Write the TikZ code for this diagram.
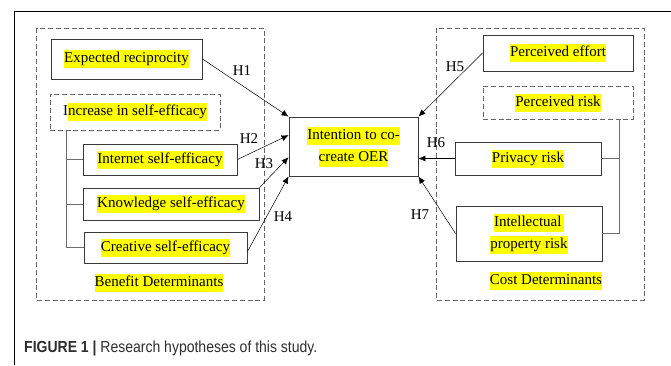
\documentclass[tikz,border=0pt]{standalone}
\usepackage{fontspec}
\setmainfont{Liberation Serif}
\newfontfamily\capfont{Liberation Sans}
\usetikzlibrary{arrows.meta,calc}
\definecolor{boxline}{HTML}{3A3A3A}
\definecolor{dashline}{HTML}{666666}
\definecolor{hlyellow}{HTML}{FFFF00}
\definecolor{capgray}{HTML}{2E2E2E}
\newcommand\hlt[1]{{\setlength{\fboxsep}{0pt}\colorbox{hlyellow}{\strut #1}}}
\tikzset{
  txt/.style={font=\fontsize{15}{18}\selectfont, inner sep=0pt, align=center},
  solidbox/.style={draw=boxline, line width=0.9pt, inner sep=0pt, font=\fontsize{15}{18}\selectfont, align=center},
  dashbox/.style={draw=dashline, line width=0.9pt, dash pattern=on 5pt off 2.8pt, inner sep=0pt, font=\fontsize{15}{18}\selectfont, align=center},
  group/.style={draw=dashline, line width=0.9pt, dash pattern=on 5pt off 2.8pt},
  hyp/.style={draw=black, line width=0.5pt, -{Latex[length=7pt,width=6pt]}},
  brk/.style={draw=gray!85!black, line width=0.9pt},
  hlab/.style={font=\fontsize{15}{18}\selectfont, inner sep=0pt},
}
\begin{document}
\begin{tikzpicture}[x=1pt,y=-1pt]
\useasboundingbox (0,0) rectangle (671,365);
\fill[white] (0,0) rectangle (671,365);
% outer frame (top and left only)
\coordinate (fa) at (14,365);
\coordinate (fb) at (14,11);
\coordinate (fc) at (671,11);
\draw[line width=1pt] (fa) -- (fb) -- (fc);
% group boxes
\draw[group] (36,28) rectangle (264,300);
\draw[group] (436,28) rectangle (644,300);
% left nodes
\node[solidbox, minimum width=151pt, minimum height=40pt] (er) at (126.5,59) {\hlt{Expected reciprocity}};
\node[dashbox, minimum width=170pt, minimum height=36pt] (inc) at (135,112) {I\hlt{ncrease in self-efficacy}};
\node[solidbox, minimum width=154pt, minimum height=31pt] (ise) at (160,159.5) {\hlt{Internet self-efficacy}};
\node[solidbox, minimum width=176pt, minimum height=32pt] (kse) at (171,204) {\hlt{Knowledge self-efficacy}};
\node[solidbox, minimum width=163pt, minimum height=31pt] (cse) at (165.5,247.5) {\hlt{Creative self-efficacy}};
\node[txt] (ben) at (159,283) {\hlt{Benefit Determinants}};
% centre
\node[solidbox, minimum width=129pt, minimum height=59pt] (ic) at (353.5,146.5) {\hlt{Intention to co-}\\[4pt]\hlt{create OER}};
% right nodes
\node[solidbox, minimum width=150pt, minimum height=36pt] (pe) at (558,53) {\hlt{Perceived effort}};
\node[dashbox, minimum width=150pt, minimum height=33pt] (pr) at (558,102.5) {\hlt{Perceived risk}};
\node[solidbox, minimum width=146pt, minimum height=33pt] (priv) at (528,158.5) {\hlt{Privacy risk}};
\node[solidbox, minimum width=146pt, minimum height=55pt] (ipr) at (529,233.5) {\hlt{Intellectual\,}\\[4pt]\hlt{property risk}};
\node[txt] (cost) at (546,281) {\hlt{Cost Determinants}};
% brackets
\coordinate (lb) at ($(inc.south west)+(17,0)$);
\draw[brk] (lb) |- (cse.west);
\draw[brk] (ise.west) -- (ise.west -| lb);
\draw[brk] (kse.west) -- (kse.west -| lb);
\coordinate (rb) at ($(pr.south east)+(-14,0)$);
\draw[brk] (rb) |- (ipr.east);
\draw[brk] (priv.east) -- (priv.east -| rb);
% hypothesis arrows
\coordinate (ic2) at ($(ic.north west)!0.31!(ic.south west)$);
\coordinate (ic3) at ($(ic.north west)!0.68!(ic.south west)$);
\draw[hyp] (er.east) -- (ic.north west);
\draw[hyp] (ise.east) -- (ic2);
\draw[hyp] (kse.north east) -- (ic3);
\draw[hyp] ($(cse.east)+(0,4)$) -- (ic.south west);
\draw[hyp] (pe.west) -- (ic.north east);
\draw[hyp] (priv.west) -- (ic.east |- priv.west);
\draw[hyp] (ipr.west) -- (ic.south east);
% labels
\node[hlab] (h1) at (242,71) {H1};
\node[hlab] (h2) at (249,139) {H2};
\node[hlab] (h3) at (264,164) {H3};
\node[hlab] (h4) at (283,217) {H4};
\node[hlab] (h5) at (455,67) {H5};
\node[hlab] (h6) at (436,143) {H6};
\node[hlab] (h7) at (420,215) {H7};
% caption
\node[anchor=west, inner sep=0pt, text=capgray] (cap) at (24,348) {\scalebox{0.875}[1]{\capfont\fontsize{16}{19}\selectfont\textbf{FIGURE 1} \textbf{|} Research hypotheses of this study.}};
\end{tikzpicture}
\end{document}
